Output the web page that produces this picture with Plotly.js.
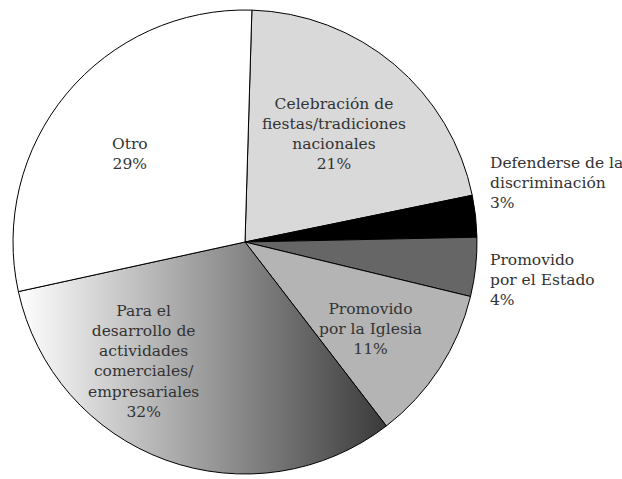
<!DOCTYPE html>
<html>
<head>
<meta charset="utf-8">
<script src="https://cdn.plot.ly/plotly-3.0.1.min.js"></script>
<style>html,body{margin:0;padding:0;background:#fff;}</style>
</head>
<body>
<div id="chart" style="width:622px;height:479px;"></div>
<script>
var labels = [
  "Celebración de<br>fiestas/tradiciones<br>nacionales",
  "Defenderse de la<br>discriminación",
  "Promovido<br>por el Estado",
  "Promovido<br>por la Iglesia",
  "Para el<br>desarrollo de<br>actividades<br>comerciales/<br>empresariales",
  "Otro"
];
var values = [21.3, 2.9, 4.1, 10.8, 32.0, 28.9];
var percentText = ["21%", "3%", "4%", "11%", "32%", "29%"];
var colors = ["#d9d9d9", "#000000", "#666666", "#b4b4b4", "#9a9a9a", "#ffffff"];
var insideLabel = [true, false, false, true, true, true];
var labelPos = [[334, 134], [488, 183], [488, 280], [370, 329], [143, 361], [130, 154]];

var FONT = "DejaVu Serif";

var trace = {
  type: "pie",
  labels: labels,
  values: values,
  sort: false,
  direction: "clockwise",
  rotation: 1.7,
  marker: {colors: colors, line: {color: "#000", width: 1}},
  textinfo: "none",
  domain: {x: [13/622, 477/622], y: [5/479, 469/479]},
  hoverinfo: "none"
};

var annotations = labels.map(function(lab, i){
  return {
    xref: "paper", yref: "paper",
    x: labelPos[i][0] / 622, y: 1 - labelPos[i][1] / 479,
    xanchor: insideLabel[i] ? "center" : "left",
    yanchor: "middle",
    align: insideLabel[i] ? "center" : "left",
    showarrow: false,
    text: lab + "<br>" + percentText[i],
    font: {family: FONT, size: 15.5, color: "#333333"}
  };
});

var layout = {
  width: 622, height: 479,
  margin: {l: 0, r: 0, t: 0, b: 0},
  showlegend: false,
  paper_bgcolor: "#fff",
  annotations: annotations
};

Plotly.newPlot("chart", [trace], layout, {displayModeBar: false}).then(function(){
  var svg = document.querySelector("#chart .main-svg");
  var ns = "http://www.w3.org/2000/svg";
  var defs = svg.querySelector("defs") || svg.insertBefore(document.createElementNS(ns, "defs"), svg.firstChild);
  var g = document.createElementNS(ns, "linearGradient");
  g.setAttribute("id", "devGrad");
  g.setAttribute("x1", "0"); g.setAttribute("y1", "0");
  g.setAttribute("x2", "1"); g.setAttribute("y2", "0");
  [["0", "#ffffff"], ["1", "#3a3a3a"]].forEach(function(s){
    var st = document.createElementNS(ns, "stop");
    st.setAttribute("offset", s[0]);
    st.setAttribute("stop-color", s[1]);
    g.appendChild(st);
  });
  defs.appendChild(g);
  var slices = document.querySelectorAll("#chart .slice");
  var p = slices[4].querySelector("path.surface");
  p.style.fill = "url(#devGrad)";
});
</script>
</body>
</html>
